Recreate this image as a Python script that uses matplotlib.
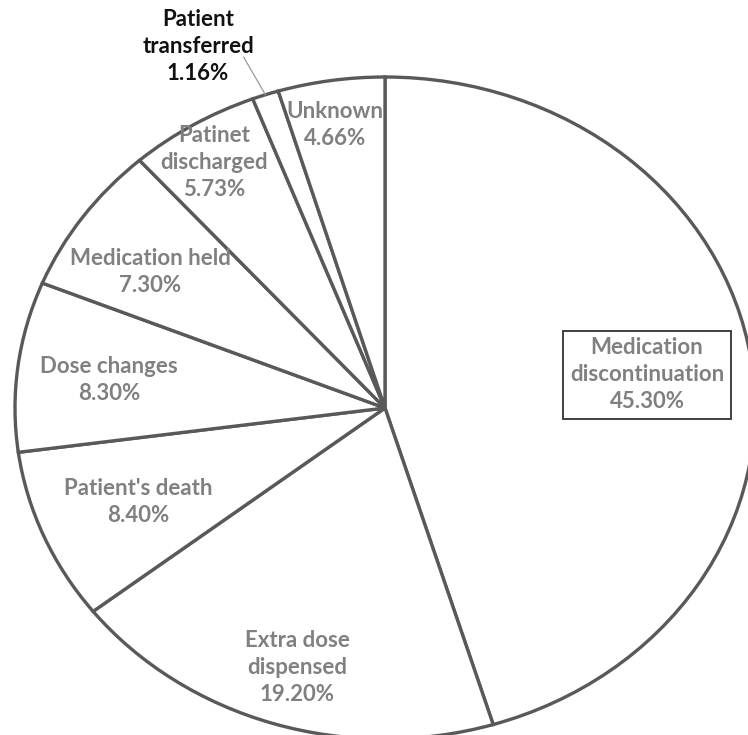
import numpy as np
import matplotlib.pyplot as plt

''' data '''
labels = ['Medication\ndiscontinuation', 'Extra dose\ndispensed', "Patient's death",
          'Dose changes', 'Medication held', 'Patinet\ndischarged',
          'Patient\ntransferred', 'Unknown']
values = [45.30, 19.20, 8.40, 8.30, 7.30, 5.73, 1.16, 4.66]

''' layout knobs '''
fig_dims = (7.48, 7.35)
edge_color = '#595959'
text_color = '#808080'
font_family = ['Lato', 'DejaVu Sans']
font_size = 16
# label centres in pie units (x: horizontal radius, y: vertical radius)
label_pos = [(0.708, 0.10), (-0.238, -0.785), (-0.668, -0.283), (-0.746, 0.085),
             (-0.635, 0.411), (-0.462, 0.743), (-0.505, 1.092), (-0.135, 0.855)]

fig = plt.figure(figsize=fig_dims, dpi=100)
ax = fig.add_axes([0, 0, 1, 1])

wedges, _ = ax.pie(values, startangle=90, counterclock=False, radius=1,
                   colors=['white'] * len(values),
                   wedgeprops=dict(edgecolor=edge_color, linewidth=2.4))

ax.set_aspect('auto')
# pie drawn as ellipse: 370 px wide radius, 331 px tall radius
ax.set_xlim(-385 / 370, 363 / 370)
ax.set_ylim(-327 / 331, 408 / 331)
ax.axis('off')

for i, (name, val) in enumerate(zip(labels, values)):
    x, y = label_pos[i]
    txt = '{}\n{:.2f}%'.format(name, val)
    color = text_color
    bbox = None
    if i == 0:
        bbox = dict(boxstyle='square,pad=0.3', facecolor='white',
                    edgecolor='#404040', linewidth=1.4)
    if name.startswith('Patient\ntrans'):
        color = '#111111'
    ax.text(x, y, txt, ha='center', va='center', fontsize=font_size,
            fontweight='bold', color=color, family=font_family,
            linespacing=1.35, bbox=bbox)

# leader line for the tiny slice
w = wedges[6]
mid = np.deg2rad((w.theta1 + w.theta2) / 2)
ax.plot([np.cos(mid), 1.12 * np.cos(mid) - 0.02], [np.sin(mid), 1.12 * np.sin(mid)],
        color='#9a9a9a', linewidth=0.9)

fig.savefig('out.png', dpi=100, facecolor='white')
